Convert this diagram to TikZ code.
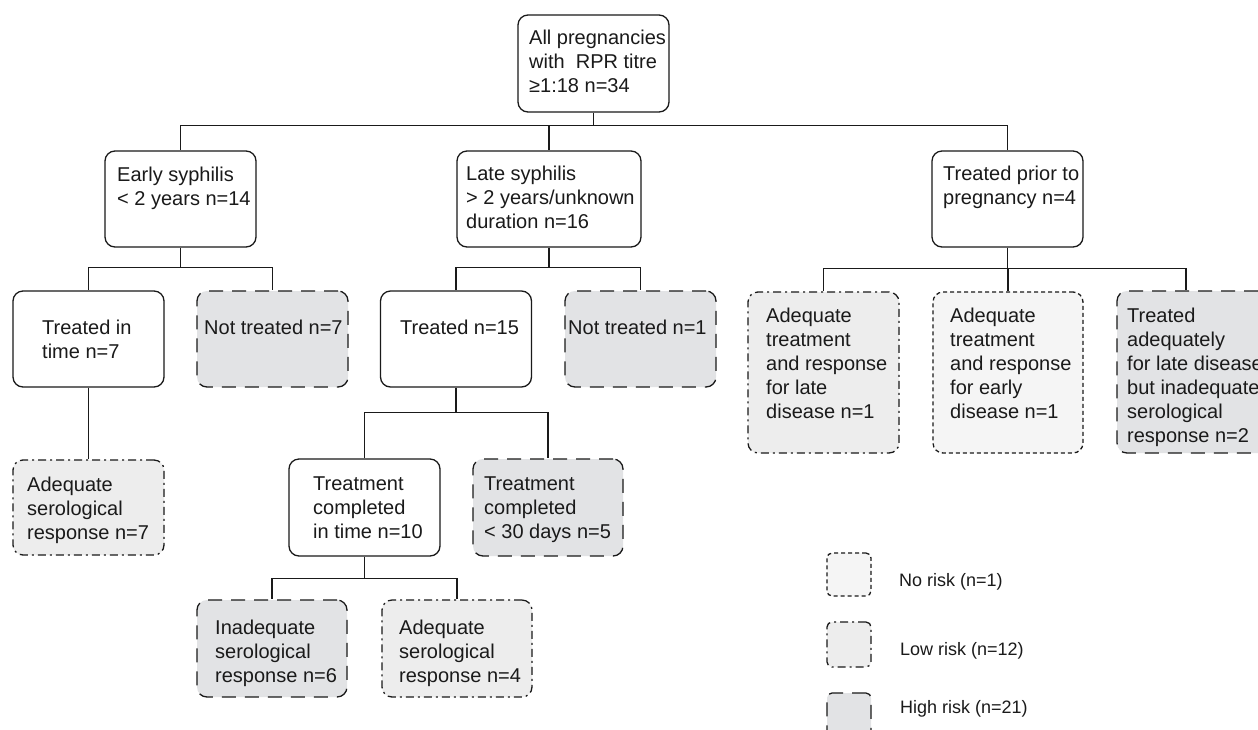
\documentclass[tikz,border=0pt]{standalone}
\usepackage{fontspec}
\setmainfont{Liberation Sans}
\definecolor{hifill}{HTML}{E2E3E5}
\definecolor{lofill}{HTML}{EDEDED}
\definecolor{nofill}{HTML}{F5F5F5}
\definecolor{ink}{HTML}{1A1A1A}
\tikzset{
 boxbase/.style={draw=ink, line width=1.3pt, rounded corners=10pt, inner sep=0pt, rectangle},
 plainbox/.style={boxbase, fill=white},
 highbox/.style={boxbase, fill=hifill, dash pattern=on 14pt off 9pt},
 lowbox/.style={boxbase, fill=lofill, dash pattern=on 8pt off 4pt on 2pt off 4pt},
 nobox/.style={boxbase, fill=nofill, dash pattern=on 4pt off 3pt},
 txt/.style={anchor=north west, inner sep=0pt, align=left, font=\fontsize{20}{24}\selectfont, text=ink},
 legtxt/.style={anchor=west, inner sep=0pt, font=\fontsize{18}{22}\selectfont, text=ink},
 link/.style={draw=ink, line width=1.3pt},
}
\begin{document}
\begin{tikzpicture}[x=1pt,y=-1pt]
\clip (0,0) rectangle (1258,729);
\fill[white] (0,0) rectangle (1258,729);
% boxes
\node[plainbox, minimum width=151pt, minimum height=97pt] (root) at (593.5,63.5) {};
\node[plainbox, minimum width=151pt, minimum height=96pt] (early) at (180.5,199) {};
\node[plainbox, minimum width=184pt, minimum height=96pt] (late) at (549,199) {};
\node[plainbox, minimum width=151pt, minimum height=96pt] (prior) at (1007.5,199) {};
\node[plainbox, minimum width=151pt, minimum height=96pt] (tit) at (88.5,339) {};
\node[highbox, minimum width=151pt, minimum height=96pt] (nt7) at (272.5,339) {};
\node[plainbox, minimum width=151pt, minimum height=96pt] (t15) at (456,339) {};
\node[highbox, minimum width=151pt, minimum height=96pt] (nt1) at (640.5,339) {};
\node[lowbox, minimum width=151pt, minimum height=161pt] (adl) at (823.5,372.5) {};
\node[nobox, minimum width=150pt, minimum height=161pt] (ade) at (1008,372.5) {};
\node[highbox, minimum width=151pt, minimum height=162pt] (tad) at (1192.5,372) {};
\node[lowbox, minimum width=151pt, minimum height=95pt] (asr7) at (88.5,507.5) {};
\node[plainbox, minimum width=151pt, minimum height=97pt] (tcit) at (364.5,507.5) {};
\node[highbox, minimum width=150pt, minimum height=97pt] (t30) at (548,507.5) {};
\node[highbox, minimum width=150pt, minimum height=97pt] (inad) at (272,648.5) {};
\node[lowbox, minimum width=150pt, minimum height=97pt] (asr4) at (457,648.5) {};
% legend boxes
\node[nobox, rounded corners=5pt, minimum width=44pt, minimum height=43pt] (lgno) at (849,574.5) {};
\node[lowbox, rounded corners=5pt, minimum width=44pt, minimum height=45pt] (lglow) at (849,644.5) {};
\node[highbox, rounded corners=5pt, minimum width=44pt, minimum height=44pt] (lghigh) at (849,715) {};
% connectors
\draw[link] (root.south) -- ++(0,13) coordinate (j0);
\draw[link] (j0) -| (early.north);
\draw[link] (j0) -| (late.north);
\draw[link] (j0) -| (prior.north);
\draw[link] (early.south) -- ++(0,20) coordinate (j1);
\draw[link] (j1) -| (tit.north);
\draw[link] (j1) -| (nt7.north);
\draw[link] (late.south) -- ++(0,20) coordinate (j2);
\draw[link] (j2) -| (t15.north);
\draw[link] (j2) -| (nt1.north);
\draw[link] (prior.south) -- ++(0,21) coordinate (j3);
\draw[link] (j3) -| (adl.north);
\draw[link] (j3) -| (ade.north);
\draw[link] (j3) -| ([xshift=-6.5pt]tad.north);
\draw[link] (tit.south) -- (asr7.north);
\draw[link] (t15.south) -- ++(0,25) coordinate (j4);
\draw[link] (j4) -| (tcit.north);
\draw[link] (j4) -| (t30.north);
\draw[link] (tcit.south) -- ++(0,22) coordinate (j5);
\draw[link] (j5) -| (inad.north);
\draw[link] (j5) -| (asr4.north);
% texts
\node[txt] (troot) at (529,30) {All pregnancies\\with~ RPR titre\\≥1:18 n=34};
\node[txt] (tearly) at (117,167) {Early syphilis\\< 2 years n=14};
\node[txt] (tlate) at (466,166) {Late syphilis\\> 2 years/unknown\\duration n=16};
\node[txt] (tprior) at (943,166) {Treated prior to\\pregnancy n=4};
\node[txt] (ttit) at (42,320) {Treated in\\time n=7};
\node[txt] (tnt7) at (204,320) {Not treated n=7};
\node[txt] (tt15) at (400,320) {Treated n=15};
\node[txt] (tnt1) at (568,320) {Not treated n=1};
\node[txt] (tadl) at (766,308) {Adequate\\treatment\\and response\\for late\\disease n=1};
\node[txt] (tade) at (950,308) {Adequate\\treatment\\and response\\for early\\disease n=1};
\node[txt] (ttad) at (1127,308) {Treated\\adequately\\for late disease\\but inadequate\\serological\\response n=2};
\node[txt] (tasr7) at (27,477) {Adequate\\serological\\response n=7};
\node[txt] (ttcit) at (313,477) {Treatment\\completed\\in time n=10};
\node[txt] (tt30) at (484,477) {Treatment\\completed\\< 30 days n=5};
\node[txt] (tinad) at (215,620) {Inadequate\\serological\\response n=6};
\node[txt] (tasr4) at (399,620) {Adequate\\serological\\response n=4};
\node[legtxt] (lno) at (899,582) {No risk (n=1)};
\node[legtxt] (llow) at (900,651) {Low risk (n=12)};
\node[legtxt] (lhigh) at (900,709) {High risk (n=21)};
\end{tikzpicture}
\end{document}
